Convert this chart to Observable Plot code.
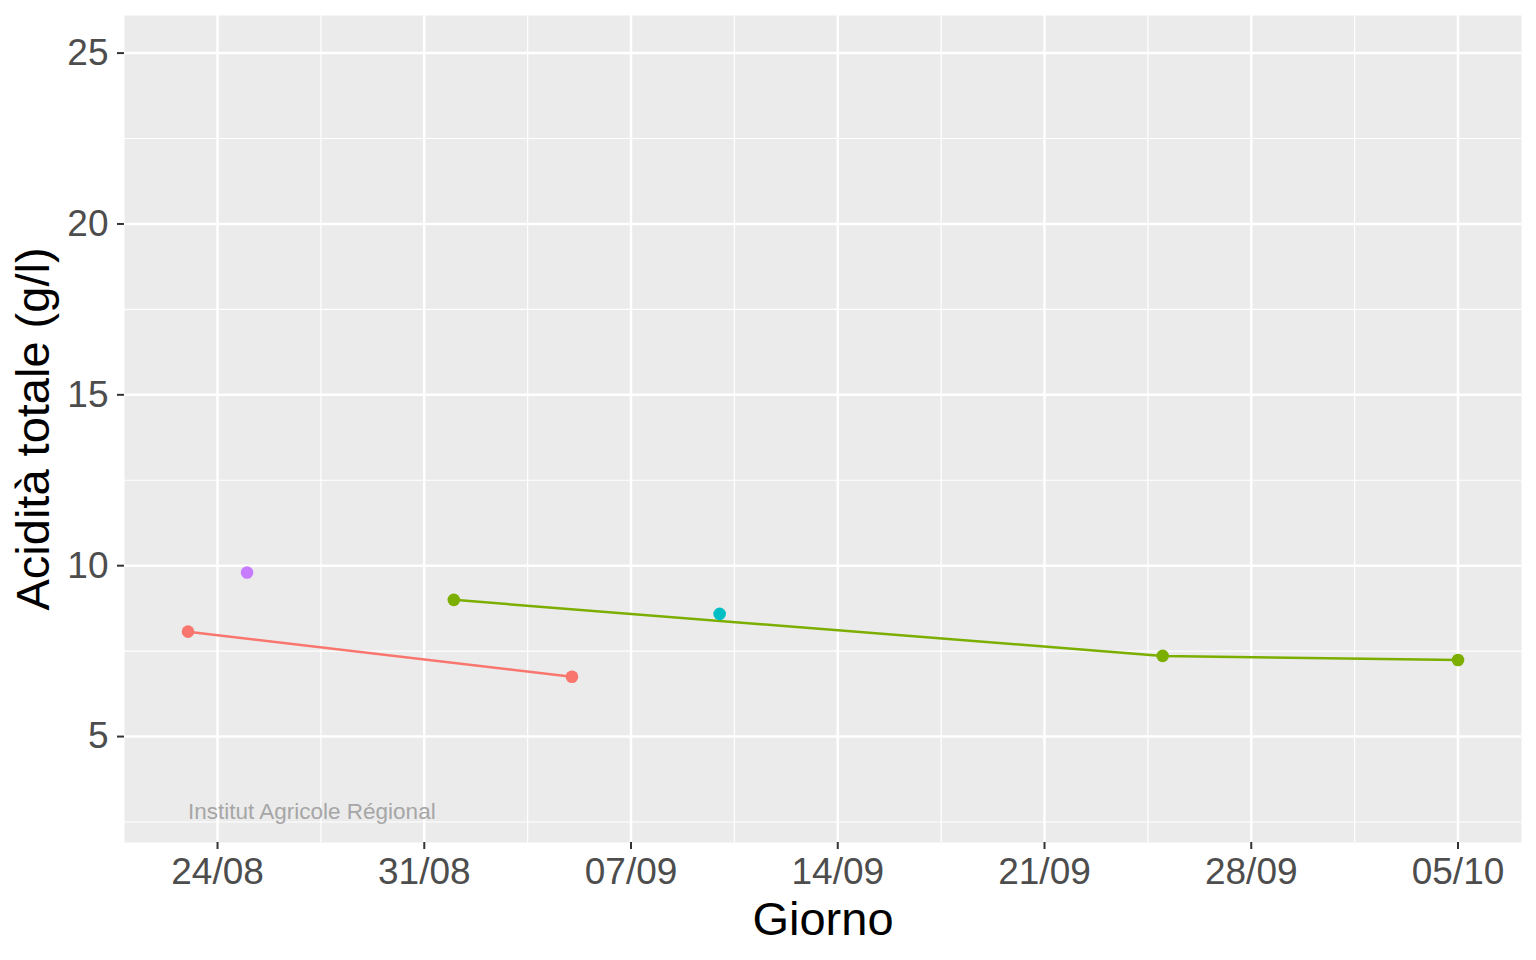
<!DOCTYPE html>
<html>
<head>
<meta charset="utf-8">
<script src="https://cdn.jsdelivr.net/npm/d3@7"></script>
<script src="https://cdn.jsdelivr.net/npm/@observablehq/plot@0.6"></script>
<style>
  body { margin: 0; background: white; }
  #chart svg { display: block; }
</style>
</head>
<body>
<div id="chart"></div>
<script>
// dati
const serie = ['gruppo 1', 'gruppo 1', 'gruppo 2', 'gruppo 2', 'gruppo 2', 'gruppo 3', 'gruppo 4']
const giorni = ['2021-08-23', '2021-09-05', '2021-09-01', '2021-09-25', '2021-10-05', '2021-09-10', '2021-08-25']
const acidita = [8.07, 6.75, 9.0, 7.36, 7.24, 8.59, 9.8]

const gruppi = ['gruppo 1', 'gruppo 2', 'gruppo 3', 'gruppo 4']
const colori = ['#F8766D', '#7CAE00', '#00BFC4', '#C77CFF']

const xTicks = ['2021-08-24', '2021-08-31', '2021-09-07', '2021-09-14', '2021-09-21', '2021-09-28', '2021-10-05']
const yTicks = [5, 10, 15, 20, 25]
const yMinor = [2.5, 7.5, 12.5, 17.5, 22.5]
const yLimits = [3, 25]

const nota = ['Institut Agricole Régional']
const notaGiorno = ['2021-08-23']
const notaValore = [2.8]

const parse = d3.utcParse('%Y-%m-%d')
const data = giorni.map((g, i) => ({giorno: parse(g), acidita: acidita[i], serie: serie[i]}))
const ticksX = xTicks.map(parse)
// minor breaks a metà tra i break principali (come ggplot)
const minorX = d3.pairs(ticksX).map(([a, b]) => new Date((+a + +b) / 2))

// espansione del 5% come ggplot
const [x0, x1] = d3.extent(data, d => d.giorno)
const ex = (x1 - x0) * 0.05
const ey = (yLimits[1] - yLimits[0]) * 0.05

const notaData = nota.map((t, i) => ({testo: t, giorno: parse(notaGiorno[i]), valore: notaValore[i]}))

let chart = Plot.plot({
  width: 1536,
  height: 960,
  marginLeft: 124,
  marginRight: 15,
  marginTop: 15,
  marginBottom: 118,
  x: {type: 'utc', domain: [new Date(+x0 - ex), new Date(+x1 + ex)]},
  y: {domain: [yLimits[0] - ey, yLimits[1] + ey]},
  color: {domain: gruppi, range: colori},
  style: {fontFamily: 'Liberation Sans, Arial, sans-serif', background: 'white'},
  marks: [
    Plot.frame({fill: '#EBEBEB', stroke: null}),
    Plot.ruleY(yMinor, {stroke: 'white', strokeWidth: 1.2}),
    Plot.ruleX(minorX, {stroke: 'white', strokeWidth: 1.2}),
    Plot.ruleY(yTicks, {stroke: 'white', strokeWidth: 2.5}),
    Plot.ruleX(ticksX, {stroke: 'white', strokeWidth: 2.5}),
    Plot.line(data, {x: 'giorno', y: 'acidita', z: 'serie', stroke: 'serie', strokeWidth: 2.5}),
    Plot.dot(data, {x: 'giorno', y: 'acidita', fill: 'serie', r: 6.3}),
    Plot.text(notaData, {x: 'giorno', y: 'valore', text: 'testo', textAnchor: 'start',
      fontSize: 22.5, fill: '#A6A6A6'}),
    Plot.axisX(ticksX, {tickFormat: d3.utcFormat('%d/%m'), fontSize: 37, tickSize: 7, tickPadding: 8,
      stroke: '#333333', fill: '#4D4D4D', strokeWidth: 2, label: null}),
    Plot.axisY(yTicks, {fontSize: 37, tickSize: 7, tickPadding: 9,
      stroke: '#333333', fill: '#4D4D4D', strokeWidth: 2, label: null}),
    Plot.text(['Giorno'], {frameAnchor: 'bottom', lineAnchor: 'middle', dy: 77, fontSize: 47, fill: 'black'}),
    Plot.text(['Acidità totale (g/l)'], {frameAnchor: 'left', textAnchor: 'middle', lineAnchor: 'middle',
      rotate: -90, dx: -91, fontSize: 47, fill: 'black'})
  ]
})

d3.select('#chart').append(() => chart)
</script>
</body>
</html>
